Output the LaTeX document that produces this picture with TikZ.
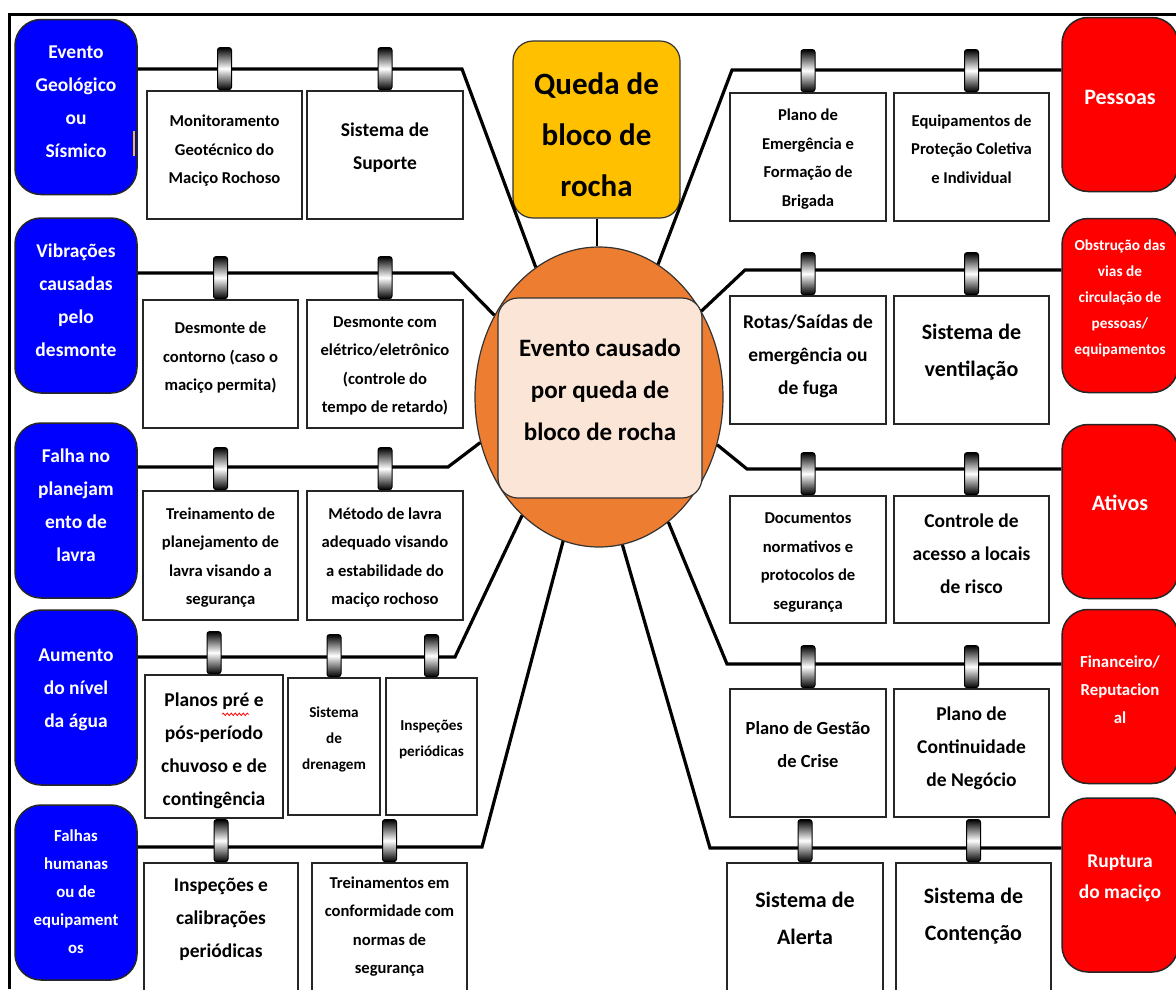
\documentclass[tikz,border=0pt]{standalone}
\usepackage{fontspec}
\setmainfont{Carlito}
\usetikzlibrary{shapes.geometric, decorations.pathmorphing}

\definecolor{causeblue}{HTML}{0000FF}
\definecolor{impactred}{HTML}{FF0000}
\definecolor{hazardgold}{HTML}{FFC000}
\definecolor{eventorange}{HTML}{ED7D31}
\definecolor{eventpeach}{HTML}{FBE5D6}

\begin{document}
\begin{tikzpicture}[x=1pt, y=-1pt,
    link/.style={line width=3.2pt, line join=miter},
    cause/.style={rectangle, rounded corners=26pt, draw=black!85, line width=1.5pt, fill=causeblue, minimum width=122pt, minimum height=175pt},
    impact/.style={rectangle, rounded corners=26pt, draw=black!85, line width=1.5pt, fill=impactred, minimum width=116pt, minimum height=174pt},
    lbl/.style={align=center, text=white, inner sep=0pt},
    btxt/.style={align=center, inner sep=0pt},
    barrier/.style={rectangle, draw=black!85, line width=1.8pt, fill=white, minimum width=155pt, minimum height=128pt},
    hanger/.style={rectangle, rounded corners=2.5pt, draw=black, line width=1pt, top color=black, bottom color=black, middle color=white, minimum width=14pt, minimum height=42pt, inner sep=0pt, anchor=south},
    fXS/.style={font=\fontsize{15.2}{26}\selectfont\bfseries},
    fS/.style={font=\fontsize{16.6}{28.5}\selectfont\bfseries},
    fM/.style={font=\fontsize{19.5}{33}\selectfont\bfseries},
    fL/.style={font=\fontsize{22}{37}\selectfont\bfseries}
  ]

    \useasboundingbox (0,0) rectangle (1176,989);
    \fill[white] (0,0) rectangle (1176,989);
    \clip (0,0) rectangle (1176,989);

    % moldura
    \draw[line width=3pt] (9,989) -- (9,14) -- (1176,14);

    % evento central e perigo
    \node[ellipse, draw=black!80, line width=1.2pt, fill=eventorange, minimum width=248pt, minimum height=300pt, inner sep=0pt] (ev) at (599,397) {};
    \node[rectangle, rounded corners=20pt, draw=black!80, line width=1.2pt, fill=eventpeach, minimum width=204pt, minimum height=200pt] (evbox) at (600,398) {};
    \node[btxt, font=\fontsize{25}{42}\selectfont\bfseries] (evbox-t) at ([yshift=8pt]evbox.center) {Evento causado\\por queda de\\bloco de rocha};
    \node[rectangle, rounded corners=20pt, draw=black!80, line width=1.2pt, fill=hazardgold, minimum width=167pt, minimum height=177pt] (queda) at (596.5,129.5) {};
    \node[btxt, font=\fontsize{31}{51}\selectfont\bfseries] (queda-t) at ([yshift=-5pt]queda.center) {Queda de\\bloco de\\rocha};
    \draw[line width=2pt] (queda.south) -- (queda.south |- ev.north);

    % causas (esquerda)
    \node[cause] (geo) at (76,107) {};
    \node[cause] (vib) at (76,305.5) {};
    \node[cause] (plan) at (76,510.5) {};
    \node[cause] (agua) at (76,697.5) {};
    \node[cause] (falha) at (76,892.5) {};
    \node[lbl, fM] (geo-t) at ([yshift=5pt]geo.center) {Evento\\Geológico\\ou\\Sísmico};
    \node[lbl, fM] (vib-t) at ([yshift=5pt]vib.center) {Vibrações\\causadas\\pelo\\desmonte};
    \node[lbl, fM] (plan-t) at ([yshift=5pt]plan.center) {Falha no\\planejam\\ento de\\lavra};
    \node[lbl, fM] (agua-t) at ([yshift=8pt]agua.center) {Aumento\\do nível\\da água};
    \node[lbl, font=\fontsize{16.8}{28}\selectfont\bfseries] (falha-t) at ([yshift=1pt]falha.center) {Falhas\\humanas\\ou de\\equipament\\os};
    \draw[hazardgold, line width=1.5pt] (134,131) -- (134,156);

    % consequências (direita)
    \node[impact] (pess) at (1120,104.5) {};
    \node[impact] (obst) at (1120,305.5) {};
    \node[impact] (ativ) at (1120,511.5) {};
    \node[impact] (fin) at (1120,696.5) {};
    \node[impact] (rup) at (1120,885) {};
    \node[lbl, fL] (pess-t) at ([yshift=7pt]pess.center) {Pessoas};
    \node[lbl, font=\fontsize{15.3}{26}\selectfont\bfseries] (obst-t) at ([yshift=7pt]obst.center) {Obstrução das\\vias de\\circulação de\\pessoas/\\equipamentos};
    \node[lbl, fL] (ativ-t) at ([yshift=9pt]ativ.center) {Ativos};
    \node[lbl, font=\fontsize{16.8}{28}\selectfont\bfseries] (fin-t) at ([yshift=7pt]fin.center) {Financeiro/\\Reputacion\\al};
    \node[lbl, font=\fontsize{19.5}{31}\selectfont\bfseries] (rup-t) at ([yshift=7pt]rup.center) {Ruptura\\do maciço};

    % barreiras preventivas
    \node[barrier] (mon) at (224.5,155) {};
    \node[barrier, minimum width=156pt] (sup) at (385,155) {};
    \node[barrier] (cont) at (220.5,364) {};
    \node[barrier, minimum width=156pt] (elet) at (385,364) {};
    \node[barrier, minimum height=129pt] (trein) at (220.5,555.5) {};
    \node[barrier, minimum width=156pt, minimum height=129pt] (met) at (385,555.5) {};
    \node[barrier, minimum width=138pt, minimum height=143pt] (planos) at (214,746.5) {};
    \node[barrier, minimum width=92pt, minimum height=137pt] (dren) at (334,746.5) {};
    \node[barrier, minimum width=91pt, minimum height=137pt] (insp) at (431.5,746.5) {};
    \node[barrier, minimum width=154pt, minimum height=140pt] (calib) at (221,933) {};
    \node[barrier, minimum width=155pt, minimum height=140pt] (normas) at (389.5,933) {};
    \node[btxt, fS] (mon-t) at ([yshift=4pt]mon.center) {Monitoramento\\Geotécnico do\\Maciço Rochoso};
    \node[btxt, fM] (sup-t) at ([yshift=7pt]sup.center) {Sistema de\\Suporte};
    \node[btxt, fS] (cont-t) at ([yshift=6pt]cont.center) {Desmonte de\\contorno (caso o\\maciço permita)};
    \node[btxt, fS] (elet-t) at ([yshift=-2pt]elet.center) {Desmonte com\\elétrico/eletrônico\\(controle do\\tempo de retardo)};
    \node[btxt, fS] (trein-t) at ([yshift=-2pt]trein.center) {Treinamento de\\planejamento de\\lavra visando a\\segurança};
    \node[btxt, fS] (met-t) at ([yshift=-2pt]met.center) {Método de lavra\\adequado visando\\a estabilidade do\\maciço rochoso};
    \node[btxt, fM] (planos-t) at ([yshift=-4pt]planos.center) {Planos pré e\\pós-período\\chuvoso e de\\contingência};
    \node[btxt, fXS] (dren-t) at ([yshift=7pt]dren.center) {Sistema\\de\\drenagem};
    \node[btxt, fXS] (insp-t) at ([yshift=7pt]insp.center) {Inspeções\\periódicas};
    \node[btxt, fM] (calib-t) at (221,919.5) {Inspeções e\\calibrações\\periódicas};
    \node[btxt, fS] (normas-t) at (389.5,926.5) {Treinamentos em\\conformidade com\\normas de\\segurança};
    \draw[red, line width=0.8pt, decorate, decoration={snake, amplitude=1.2pt, segment length=4pt}] ([xshift=8pt]planos-t.north) ++(0,22) -- ++(27,0);

    % barreiras mitigadoras
    \node[barrier, minimum width=156pt] (emerg) at (808,157) {};
    \node[barrier] (epc) at (971.5,157) {};
    \node[barrier, minimum width=156pt] (rotas) at (808,360) {};
    \node[barrier] (vent) at (971.5,360) {};
    \node[barrier, minimum width=156pt, minimum height=127pt] (docs) at (808,559.5) {};
    \node[barrier, minimum height=127pt] (acesso) at (971.5,559.5) {};
    \node[barrier, minimum width=156pt] (crise) at (808,753) {};
    \node[barrier] (negocio) at (971.5,753) {};
    \node[barrier, minimum width=156pt, minimum height=140pt] (alerta) at (805,933) {};
    \node[barrier, minimum width=155pt, minimum height=140pt] (conten) at (973.5,933) {};
    \node[btxt, fS] (emerg-t) at ([yshift=-2pt]emerg.center) {Plano de\\Emergência e\\Formação de\\Brigada};
    \node[btxt, fS] (epc-t) at ([yshift=8pt]epc.center) {Equipamentos de\\Proteção Coletiva\\e Individual};
    \node[btxt, fM] (rotas-t) at ([yshift=4pt]rotas.center) {Rotas/Saídas de\\emergência ou\\de fuga};
    \node[btxt, fL] (vent-t) at ([yshift=8pt]vent.center) {Sistema de\\ventilação};
    \node[btxt, fS] (docs-t) at ([yshift=-3pt]docs.center) {Documentos\\normativos e\\protocolos de\\segurança};
    \node[btxt, fM] (acesso-t) at ([yshift=6pt]acesso.center) {Controle de\\acesso a locais\\de risco};
    \node[btxt, font=\fontsize{18.5}{33}\selectfont\bfseries] (crise-t) at ([yshift=8pt]crise.center) {Plano de Gestão\\de Crise};
    \node[btxt, fM] (negocio-t) at ([yshift=5pt]negocio.center) {Plano de\\Continuidade\\de Negócio};
    \node[btxt, fL] (alerta-t) at (805,918.5) {Sistema de\\Alerta};
    \node[btxt, fL] (conten-t) at (973.5,916) {Sistema de\\Contenção};

    % linhas das ameaças e consequências
    \coordinate (kL1) at (462,69);
    \coordinate (kL2) at (453,273);
    \coordinate (kL3) at (448,467);
    \coordinate (kL4) at (455,657);
    \coordinate (kL5) at (482,847);
    \coordinate (kR1) at (732,70);
    \coordinate (kR2) at (745,270);
    \coordinate (kR3) at (747,469);
    \coordinate (kR4) at (727,664);
    \coordinate (kR5) at (710,848);
    \draw[link] (geo.east |- kL1) -- (kL1) -- (ev.116);
    \draw[link] (vib.east |- kL2) -- (kL2) -- (ev.142);
    \draw[link] (plan.east |- kL3) -- (kL3) -- (ev.201);
    \draw[link] (agua.east |- kL4) -- (kL4) -- (ev.237);
    \draw[link] (falha.east |- kL5) -- (kL5) -- (ev.256);
    \draw[link] (pess.west |- kR1) -- (kR1) -- (ev.66);
    \draw[link] (obst.west |- kR2) -- (kR2) -- (ev.40);
    \draw[link] (ativ.west |- kR3) -- (kR3) -- (ev.338);
    \draw[link] (fin.west |- kR4) -- (kR4) -- (ev.299);
    \draw[link] (rup.west |- kR5) -- (kR5) -- (ev.279);

    % presilhas
    \foreach \b in {mon,sup,cont,elet,trein,met,planos,dren,insp,calib,normas,emerg,epc,rotas,vent,docs,acesso,crise,negocio,alerta,conten}
      \node[hanger] (h-\b) at (\b.north) {};

  \end{tikzpicture}
\end{document}
